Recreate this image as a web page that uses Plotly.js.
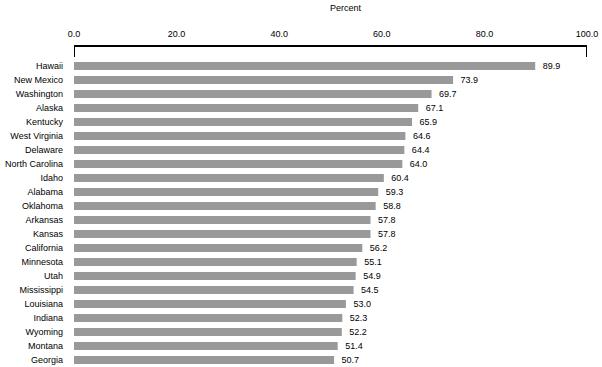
<!DOCTYPE html>
<html>
<head>
<meta charset="utf-8">
<script src="https://cdn.plot.ly/plotly-3.0.1.min.js"></script>
<style>html,body{margin:0;padding:0;background:#fff;}#chart{width:602px;height:367px;}</style>
</head>
<body>
<div id="chart"></div>
<script>
const states = ["Hawaii","New Mexico","Washington","Alaska","Kentucky","West Virginia","Delaware","North Carolina","Idaho","Alabama","Oklahoma","Arkansas","Kansas","California","Minnesota","Utah","Mississippi","Louisiana","Indiana","Wyoming","Montana","Georgia"];
const percent = [89.9,73.9,69.7,67.1,65.9,64.6,64.4,64.0,60.4,59.3,58.8,57.8,57.8,56.2,55.1,54.9,54.5,53.0,52.3,52.2,51.4,50.7];
const xTicks = [0,20,40,60,80,100];
const xTickLabels = ["0.0","20.0","40.0","60.0","80.0","100.0"];

const font = {family: "Liberation Sans, Arial, sans-serif", size: 9, color: "#000"};

const data = [{
  type: "bar",
  orientation: "h",
  y: states,
  x: percent,
  marker: {color: "#999999", line: {width: 0}},
  text: percent.map(v => "\u2002" + v.toFixed(1)),
  textposition: "outside",
  constraintext: "none",
  textfont: font,
  cliponaxis: false,
  hoverinfo: "none"
}];

const layout = {
  width: 602, height: 367,
  margin: {l: 74, r: 15, t: 47, b: 0, pad: 0},
  paper_bgcolor: "#fff", plot_bgcolor: "#fff",
  showlegend: false,
  bargap: 0.43,
  font: font,
  xaxis: {
    side: "top", range: [0, 100], tickvals: xTicks, ticktext: xTickLabels,
    showgrid: false, zeroline: false, showline: true, linecolor: "#000", linewidth: 2,
    ticks: "", tickfont: font, ticklabelstandoff: 4
  },
  yaxis: {
    type: "category", range: [21.5, -1.357], showgrid: false, zeroline: false,
    showline: false, ticks: "", tickfont: font, ticklabelstandoff: 10
  },
  shapes: [0, 100].map(v => ({
    type: "line", xref: "x", yref: "paper", x0: v, x1: v, y0: 1, y1: 1 - 10/320,
    line: {color: "#000", width: 2}
  })),
  annotations: [{
    text: "Percent", xref: "paper", yref: "paper", x: 0.53, y: 1.122,
    showarrow: false, font: font, xanchor: "center", yanchor: "middle"
  }]
};

Plotly.newPlot("chart", data, layout, {staticPlot: true, displayModeBar: false});
</script>
</body>
</html>
